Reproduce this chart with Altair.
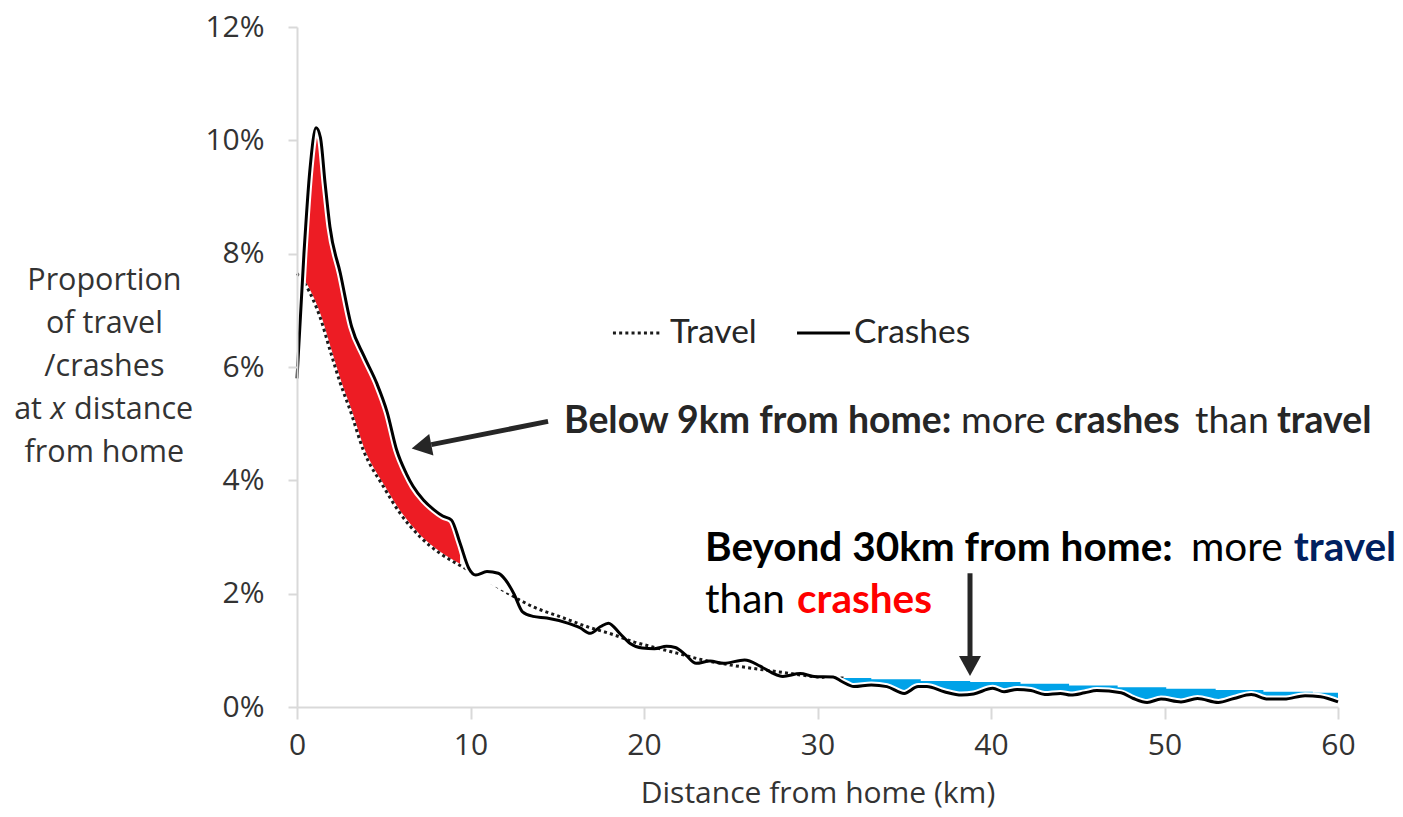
import altair as alt
import pandas as pd

# ---------------- data ----------------
crash_km = [0, 0.4, 0.75, 1.1, 1.35, 1.62, 1.9, 2.5, 3.15, 3.85,
            4.6, 5.2, 5.75, 6.3, 6.7, 7.3, 7.9, 8.4, 8.9, 9.4,
            9.9, 10.3, 10.95, 11.6, 12.0, 12.5, 13.0, 13.6, 14.4, 15.6,
            16.3, 16.9, 17.5, 17.95, 18.6, 19.2, 19.9, 20.6, 21.3, 21.8,
            22.4, 23.0, 23.8, 24.6, 25.8, 26.7, 27.4, 28.0, 29.0, 29.8,
            30.9, 31.4, 32.1, 33.1, 34.0, 35.0, 35.8, 36.3, 37.3, 38.3,
            39.0, 40.1, 40.75, 41.5, 42.3, 43.1, 44.0, 44.6, 45.4, 46.1,
            47.5, 48.2, 49.0, 49.8, 50.95, 51.9, 53.1, 54.0, 55.0, 55.95,
            56.9, 58.1, 59.0, 60.0]
crash_pct = [5.8, 8.0, 9.5, 10.22, 10.05, 9.24, 8.47, 7.65, 6.71, 6.2,
             5.71, 5.2, 4.53, 4.12, 3.89, 3.65, 3.48, 3.37, 3.30, 2.89,
             2.45, 2.33, 2.39, 2.36, 2.25, 2.0, 1.68, 1.6, 1.57, 1.48,
             1.40, 1.30, 1.42, 1.48, 1.30, 1.12, 1.04, 1.03, 1.07, 1.05,
             0.92, 0.77, 0.81, 0.77, 0.83, 0.72, 0.60, 0.54, 0.59, 0.54,
             0.53, 0.45, 0.36, 0.39, 0.36, 0.24, 0.36, 0.36, 0.27, 0.21,
             0.23, 0.33, 0.27, 0.31, 0.29, 0.22, 0.24, 0.21, 0.25, 0.29,
             0.25, 0.15, 0.08, 0.14, 0.09, 0.15, 0.08, 0.15, 0.22, 0.14,
             0.14, 0.20, 0.18, 0.09]

travel_km = [0, 0.46, 0.94, 1.33, 1.9, 2.5, 3.06, 3.83, 4.98, 5.94,
             7.1, 8.25, 9.5, 10.95, 12.2, 13.6, 15.2, 16.7, 18.2, 19.4,
             20.5, 21.9, 23.4, 25.0, 26.3, 28.0, 30.0, 31.5, 35.9, 38.8,
             41.7, 45.2, 50.0, 55.0, 60.0]
travel_pct = [7.65, 7.47, 7.18, 6.88, 6.3, 5.71, 5.24, 4.53, 3.89, 3.42,
              3.0, 2.71, 2.48, 2.24, 2.0, 1.77, 1.59, 1.42, 1.28, 1.15,
              1.06, 0.95, 0.83, 0.74, 0.68, 0.61, 0.53, 0.51, 0.46, 0.45,
              0.42, 0.39, 0.33, 0.29, 0.25]

# stepped upper edge of the blue (travel > crashes) band
blue_km = [31.5, 33.1, 35.95, 38.8, 41.7, 44.5, 47.3, 50.1, 52.95, 55.7, 58.55, 60.0]
blue_top = [0.51, 0.49, 0.46, 0.44, 0.41, 0.38, 0.35, 0.32, 0.30, 0.27, 0.25, 0.25]

x_ticks = [0, 10, 20, 30, 40, 50, 60]
y_ticks = [0, 2, 4, 6, 8, 10, 12]

crash = pd.DataFrame({"km": crash_km, "pct": crash_pct})
travel = pd.DataFrame({"km": travel_km, "pct": travel_pct})
blue = pd.DataFrame({"km": blue_km, "pct": blue_top})

# ---------------- styling ----------------
AX_FONT = "Open Sans"
TXT_FONT = "Lato"
RED = "#ed1c24"
BLUE = "#00a2e8"
INK = "#262626"

xs = alt.Scale(domain=[0, 60], nice=False, zero=False)
ys = alt.Scale(domain=[0, 12], nice=False)

x_axis = alt.Axis(values=x_ticks, title="Distance from home (km)", titleFont=AX_FONT,
                  titleFontSize=30, titleFontWeight="normal", titleColor="#333333",
                  titlePadding=18, labelFont=AX_FONT, labelFontSize=30, labelColor="#333333",
                  labelPadding=11, tickSize=12, tickColor="#d9d9d9", tickWidth=2,
                  domainColor="#d9d9d9", domainWidth=2, grid=False, zindex=1, labelFlush=False)
y_axis = alt.Axis(values=y_ticks, labelExpr="datum.value + '%'", title=None,
                  labelFont=AX_FONT, labelFontSize=30, labelColor="#333333",
                  labelPadding=24, tickSize=9, tickColor="#d9d9d9", tickWidth=2,
                  domainColor="#d9d9d9", domainWidth=2, grid=False, zindex=1)


def X(f="km"):
    return alt.X(f"{f}:Q", scale=xs, axis=x_axis)


def Y(f="pct"):
    return alt.Y(f"{f}:Q", scale=ys, axis=y_axis)


layers = []

# red band: crashes above travel (below ~9.5 km)
layers.append(alt.Chart(crash).transform_filter("datum.km >= 0.4 && datum.km <= 9.4")
              .mark_area(color=RED, interpolate="monotone", orient="vertical", opacity=1)
              .encode(x=X(), y=Y()))
layers.append(alt.Chart(travel).transform_filter("datum.km <= 9.6")
              .mark_area(color="white", interpolate="monotone", orient="vertical", opacity=1,
                         stroke="white", strokeWidth=3)
              .encode(x=X(), y=Y()))

# travel dotted line (hidden under the blue band further out)
layers.append(alt.Chart(travel).transform_filter("datum.km <= 32")
              .mark_line(color="#1a1a1a", strokeWidth=3, strokeDash=[3, 3.2],
                         interpolate="monotone")
              .encode(x=X(), y=Y()))

# blue band: travel above crashes (beyond ~31 km)
layers.append(alt.Chart(blue).mark_area(color=BLUE, interpolate="step-after", orient="vertical",
                                        opacity=1)
              .encode(x=X(), y=Y()))
layers.append(alt.Chart(crash).transform_filter("datum.km >= 31.4")
              .mark_area(color="white", interpolate="monotone", orient="vertical", opacity=1)
              .encode(x=X(), y=Y()))

# crashes line with white halo where it borders the bands
layers.append(alt.Chart(crash).transform_filter("datum.km <= 9.9 || datum.km >= 31.0")
              .mark_line(color="white", strokeWidth=7, interpolate="monotone")
              .encode(x=X(), y=Y()))
layers.append(alt.Chart(crash).mark_line(color="black", strokeWidth=3, interpolate="monotone")
              .encode(x=X(), y=Y()))

# ---------------- legend ----------------
leg_rules = pd.DataFrame({"km": [18.21], "km2": [20.92], "pct": [6.6]})
leg_rules2 = pd.DataFrame({"km": [28.82], "km2": [31.87], "pct": [6.6]})
layers.append(alt.Chart(leg_rules).mark_rule(color="#1a1a1a", strokeWidth=3, strokeDash=[3, 3.2])
              .encode(x=X(), x2="km2:Q", y=Y()))
layers.append(alt.Chart(leg_rules2).mark_rule(color="black", strokeWidth=3)
              .encode(x=X(), x2="km2:Q", y=Y()))
leg_txt = pd.DataFrame({"km": [21.5, 32.1], "pct": [6.6, 6.6], "label": ["Travel", "Crashes"]})
layers.append(alt.Chart(leg_txt).mark_text(font=TXT_FONT, fontSize=33.5, color=INK, align="left",
                                           baseline="middle")
              .encode(x=X(), y=Y(), text="label:N"))

# ---------------- y title (multi-line, with italic x) ----------------
ytitle = pd.DataFrame({"km": [-11.1, -11.1, -11.1, -11.1],
                       "pct": [7.518, 6.759, 6.0, 4.482],
                       "label": ["Proportion", "of travel", "/crashes", "from home"]})
layers.append(alt.Chart(ytitle).mark_text(font=AX_FONT, fontSize=30.5, color="#333333",
                                          align="center", baseline="middle")
              .encode(x=X(), y=Y(), text="label:N"))
for km, lab, al, style in [(-14.70, "at", "right", "normal"),
                           (-13.78, "x", "center", "italic"),
                           (-12.85, "distance", "left", "normal")]:
    d = pd.DataFrame({"km": [km], "pct": [5.241], "label": [lab]})
    layers.append(alt.Chart(d).mark_text(font=AX_FONT, fontSize=30.5, color="#333333", align=al,
                                         baseline="middle", fontStyle=style)
                  .encode(x=X(), y=Y(), text="label:N"))

# ---------------- annotations ----------------
pieces = [
    (15.39, 4.835, "Below 9km from home:", "bold", INK, 37.4),
    (38.27, 4.835, "more", "normal", INK, 37.4),
    (43.69, 4.835, "crashes", "bold", INK, 37.4),
    (51.76, 4.835, "than", "normal", INK, 37.4),
    (56.48, 4.835, "travel", "bold", INK, 37.4),
    (23.52, 2.58, "Beyond 30km from home:", "bold", "#000000", 40.5),
    (51.53, 2.58, "more", "normal", "#000000", 40.5),
    (57.45, 2.58, "travel", "bold", "#002060", 40.5),
    (23.52, 1.66, "than", "normal", "#000000", 40.5),
    (28.82, 1.66, "crashes", "bold", "#ff0000", 40.5),
]
for km, pct, lab, wt, col, fs in pieces:
    d = pd.DataFrame({"km": [km], "pct": [pct], "label": [lab]})
    layers.append(alt.Chart(d).mark_text(font=TXT_FONT, fontSize=fs, fontWeight=wt, color=col,
                                         align="left", baseline="alphabetic")
                  .encode(x=X(), y=Y(), text="label:N"))

# arrows
shafts = pd.DataFrame({"km": [14.47, 38.79], "pct": [5.04, 2.36],
                       "km2": [7.74, 38.79], "pct2": [4.63, 0.90]})
layers.append(alt.Chart(shafts).mark_rule(color=INK, strokeWidth=5)
              .encode(x=X(), y=Y(), x2="km2:Q", y2="pct2:Q"))
HEAD = "M0,0L-0.55,1L0.55,1Z"
for km, pct, ang in [(6.61, 4.56, 259), (38.79, 0.547, 180)]:
    d = pd.DataFrame({"km": [km], "pct": [pct]})
    layers.append(alt.Chart(d).mark_point(shape=HEAD, size=1600, filled=True, color=INK,
                                          opacity=1, strokeWidth=0, angle=ang)
                  .encode(x=X(), y=Y()))

chart = alt.layer(*layers).properties(
    width=1041, height=680,
    autosize=alt.AutoSizeParams(type="none"),
    padding={"left": 289, "top": 19, "right": 57, "bottom": 102},
    background="white",
).configure_view(stroke=None)

chart.save("out.html", embed_options={"renderer": "svg", "actions": False})
